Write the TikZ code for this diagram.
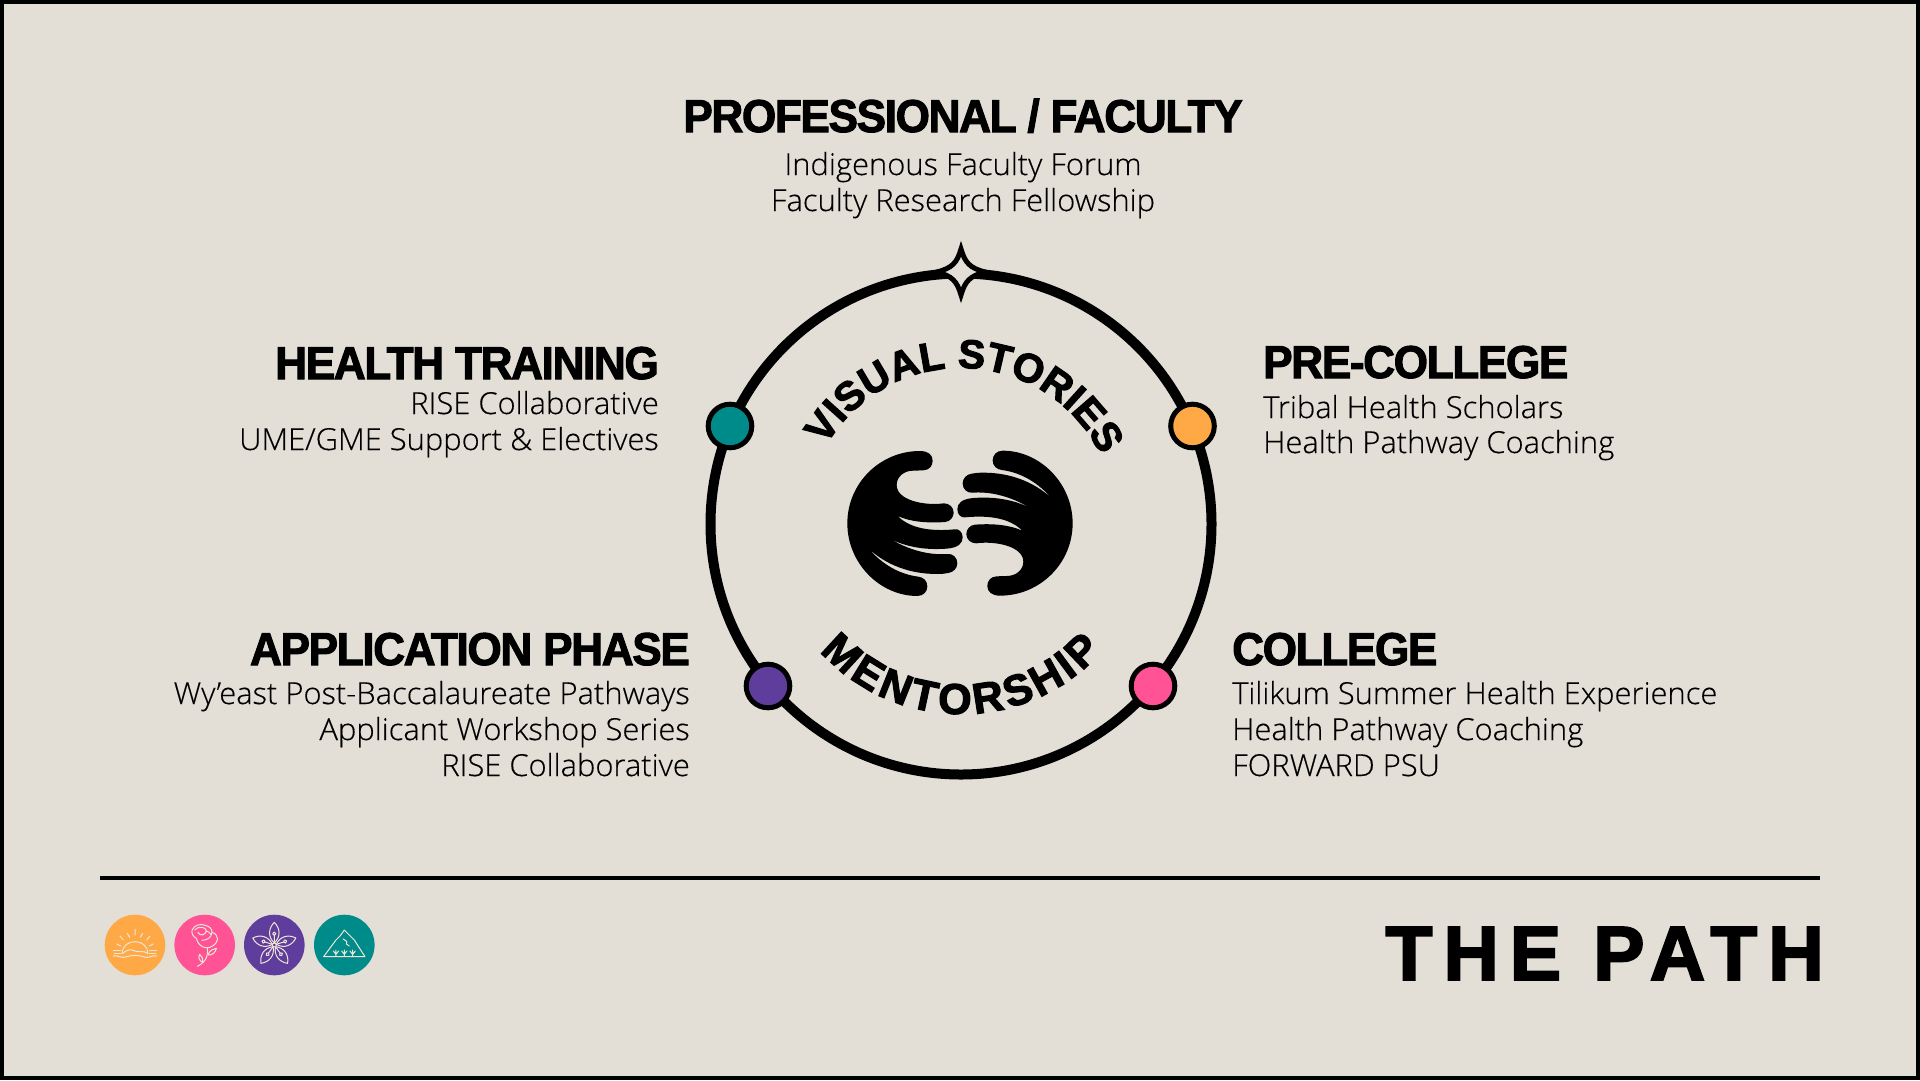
\documentclass[tikz,border=0pt]{standalone}
\usepackage{fontspec}
\setmainfont{Open Sans Light}[FakeBold=.35,FakeStretch=1.02]
\newfontfamily\headfont[BoldFeatures={FakeBold=2.2,FakeStretch=.96,LetterSpace=-3}]{Liberation Sans}
\newfontfamily\arcfont[BoldFeatures={FakeBold=2.6}]{Liberation Sans}
\newfontfamily\pathfont[BoldFeatures={FakeBold=2.4,LetterSpace=14}]{Liberation Sans}
\usetikzlibrary{decorations.text}
\definecolor{paper}{HTML}{E3DFD7}
\definecolor{sunorange}{HTML}{FFA946}
\definecolor{rosepink}{HTML}{FF5396}
\definecolor{lilypurple}{HTML}{5F3D9C}
\definecolor{peakteal}{HTML}{008B8B}
\definecolor{iconline}{HTML}{EFE6D6}
\tikzset{
  headtext/.style={inner sep=0pt,font=\headfont\bfseries\fontsize{46}{46}\selectfont},
  bodytext/.style={inner sep=0pt,font=\fontsize{30.3}{36}\selectfont},
  stagedot/.style={circle,draw=black,line width=5pt,minimum size=43.6pt,inner sep=0pt},
  icondisc/.style={circle,minimum size=60.6pt,inner sep=0pt},
  iconstroke/.style={draw=iconline,line width=1pt,line cap=round,line join=round},
  iconscope/.style={x=.3333pt,y=-.3333pt},
}
\newcommand{\handshape}{
  (270,63) .. controls (150,63) and (52,160) .. (52,280) .. controls (52,400) and (150,498) .. (262,498)
  .. controls (280,498) and (292,485) .. (292,469) .. controls (292,452) and (280,442) .. (265,440)
  .. controls (200,432) and (150,395) .. (118,358) .. controls (170,405) and (240,432) .. (320,432)
  .. controls (335,432) and (345,431) .. (355,429) .. controls (370,427) and (382,415) .. (382,400)
  .. controls (382,382) and (368,370) .. (352,372) .. controls (270,378) and (190,340) .. (138,296)
  .. controls (190,345) and (270,362) .. (350,356) .. controls (385,353) and (398,340) .. (398,322)
  .. controls (398,305) and (385,296) .. (375,298) .. controls (300,305) and (240,295) .. (203,258)
  .. controls (240,275) and (290,280) .. (345,276) .. controls (360,275) and (371,262) .. (371,248)
  .. controls (371,232) and (358,220) .. (342,220) .. controls (280,228) and (200,210) .. (200,165)
  .. controls (200,140) and (222,122) .. (250,122) -- (280,121)
  .. controls (298,120) and (308,108) .. (308,92) .. controls (308,75) and (295,63) .. (270,63) -- cycle
}
\begin{document}
\begin{tikzpicture}[x=1pt,y=-1pt]
    \useasboundingbox (0,0) rectangle (1920,1080);
    \draw[fill=paper,line width=4pt] (2,2) rectangle (1918,1078);

    \node[circle,draw=black,line width=10pt,minimum size=501pt,inner sep=0pt] (ring) at (961,524) {};

    \begin{scope}[shift={(961,272)}]
        \draw[fill=paper,line width=5pt,miter limit=10] (0,-23) .. controls (4,-9) and (9,-4) .. (24,0) .. controls (9,4) and (4,9) .. (0,23) .. controls (-4,9) and (-9,4) .. (-24,0) .. controls (-9,-4) and (-4,-9) .. (0,-23) -- cycle;
    \end{scope}

    \node[stagedot,fill=peakteal] (tealdot) at (730,426) {};
    \node[stagedot,fill=sunorange] (orangedot) at (1192.5,426) {};
    \node[stagedot,fill=lilypurple] (purpledot) at (768,686) {};
    \node[stagedot,fill=rosepink] (pinkdot) at (1153,686) {};

    \path[decorate,decoration={text along path,text align={fit to path},text={|\arcfont\bfseries\fontsize{40.5}{40.5}\selectfont|VISUAL STORIES}}]
        (961,524) ++(-150:156) arc[start angle=-150,end angle=-28,radius=156];
    \path[decorate,decoration={text along path,text align={fit to path},text={|\arcfont\bfseries\fontsize{43}{43}\selectfont|MENTORSHIP}}]
        (961,524) ++(-222:190) arc[start angle=-222,end angle=-318,radius=190];

    \begin{scope}[shift={(830,430)},x=.3333pt,y=-.3333pt]
        \fill \handshape;
        \fill[rotate around={180:(390,280)}] \handshape;
    \end{scope}

    \node[headtext,anchor=base] (profhead) at (963,132) {PROFESSIONAL / FACULTY};
    \node[bodytext,anchor=base] (profone) at (963,175) {Indigenous Faculty Forum};
    \node[bodytext,anchor=base] (proftwo) at (963,211) {Faculty Research Fellowship};

    \node[headtext,anchor=base east] (healthhead) at (659,379) {HEALTH TRAINING};
    \node[bodytext,anchor=base east] (healthone) at (659,414) {RISE Collaborative};
    \node[bodytext,anchor=base east] (healthtwo) at (659,450) {UME/GME Support \& Electives};

    \node[headtext,anchor=base west] (prehead) at (1263,378) {PRE-COLLEGE};
    \node[bodytext,anchor=base west] (preone) at (1263,418) {Tribal Health Scholars};
    \node[bodytext,anchor=base west] (pretwo) at (1263,453) {Health Pathway Coaching};

    \node[headtext,anchor=base east] (applyhead) at (690,665) {APPLICATION PHASE};
    \node[bodytext,anchor=base east] (applyone) at (690,704) {Wy’east Post-Baccalaureate Pathways};
    \node[bodytext,anchor=base east] (applytwo) at (690,740) {Applicant Workshop Series};
    \node[bodytext,anchor=base east] (applythree) at (690,776) {RISE Collaborative};

    \node[headtext,anchor=base west] (collegehead) at (1232,665) {COLLEGE};
    \node[bodytext,anchor=base west] (collegeone) at (1232,704) {Tilikum Summer Health Experience};
    \node[bodytext,anchor=base west] (collegetwo) at (1232,740) {Health Pathway Coaching};
    \node[bodytext,anchor=base west] (collegethree) at (1232,776) {FORWARD PSU};

    \coordinate (ruleleft) at (100,878);
    \coordinate (ruleright) at (1820,878);
    \draw[line width=4pt] (ruleleft) -- (ruleright);

    \node[anchor=base east,inner sep=0pt,font=\pathfont\bfseries\fontsize{77}{77}\selectfont] (pathtitle) at (1824,980) {THE PATH};

    \node[icondisc,fill=sunorange] (sunicon) at (135,945) {};
    \node[icondisc,fill=rosepink] (roseicon) at (204.7,945) {};
    \node[icondisc,fill=lilypurple] (lilyicon) at (274.3,945) {};
    \node[icondisc,fill=peakteal] (peakicon) at (344.3,945) {};

    \begin{scope}[shift={(135,945)},iconscope]
        \draw[iconstroke] (-38,26) .. controls (-40,-22) and (40,-22) .. (38,26);
        \draw[iconstroke] (-38,26) .. controls (-20,12) and (-15,12) .. (0,18) .. controls (15,24) and (25,14) .. (38,26);
        \draw[iconstroke] (-65,17) -- (-44,17) (-62,25) -- (-42,25) (44,17) -- (65,17) (42,25) -- (62,25);
        \draw[iconstroke] (-65,33) .. controls (-50,28) and (-45,42) .. (-25,35) .. controls (-10,30) and (10,30) .. (25,35) .. controls (45,42) and (50,28) .. (65,33);
        \draw[iconstroke] (0,-47) -- (0,-30) (-23,-35) -- (-16,-23) (23,-35) -- (16,-23) (-45,-27) -- (-35,-15) (45,-27) -- (35,-15) (-55,-3) -- (-43,3) (55,-3) -- (43,3);
    \end{scope}

    \begin{scope}[shift={(204.7,945)},iconscope]
        \draw[iconstroke] (-38,-45) .. controls (-30,-62) and (-10,-65) .. (5,-58) .. controls (15,-55) and (22,-48) .. (22,-38) .. controls (35,-35) and (38,-25) .. (38,-15) .. controls (35,0) and (15,10) .. (5,8) .. controls (-10,8) and (-22,-5) .. (-25,-20) .. controls (-35,-25) and (-40,-35) .. (-38,-45);
        \draw[iconstroke] (-30,-45) .. controls (-20,-58) and (5,-55) .. (5,-42) .. controls (3,-30) and (-15,-25) .. (-20,-38);
        \draw[iconstroke] (22,-38) .. controls (20,-22) and (8,-15) .. (-8,-14) (5,-42) .. controls (10,-40) and (15,-38) .. (18,-32);
        \draw[iconstroke] (8,8) .. controls (12,30) and (5,50) .. (-22,64);
        \draw[iconstroke] (10,30) .. controls (15,15) and (25,12) .. (35,10) .. controls (33,22) and (22,32) .. (10,30);
        \draw[iconstroke] (-5,52) .. controls (-18,48) and (-20,35) .. (-15,28) .. controls (-8,35) and (-4,42) .. (-5,52);
    \end{scope}

    \begin{scope}[shift={(274.3,945)},iconscope]
        \draw[iconstroke] (0,0) circle (6);
        \foreach \petal in {18,90,162,234,306} {
            \begin{scope}[rotate=\petal]
                \draw[iconstroke] (6,0) .. controls (25,-20) and (50,-18) .. (68,0) .. controls (50,18) and (25,20) .. (6,0);
                \draw[iconstroke] (6,0) -- (28,0) (34,0) circle (5);
            \end{scope}
        }
    \end{scope}

    \begin{scope}[shift={(344.3,945)},iconscope]
        \draw[iconstroke] (-62,35) -- (-25,-15) -- (-12,-28) -- (0,-45) -- (20,-25) -- (30,-15) -- (62,35) -- cycle;
        \draw[iconstroke] (-3,-18) -- (8,-10) -- (6,-3) -- (15,3);
        \foreach \plant in {-25,0,25} {
            \draw[iconstroke] (\plant,15) -- (\plant,33) (\plant-8,18) -- (\plant,28) -- (\plant+8,18);
        }
    \end{scope}
\end{tikzpicture}
\end{document}
